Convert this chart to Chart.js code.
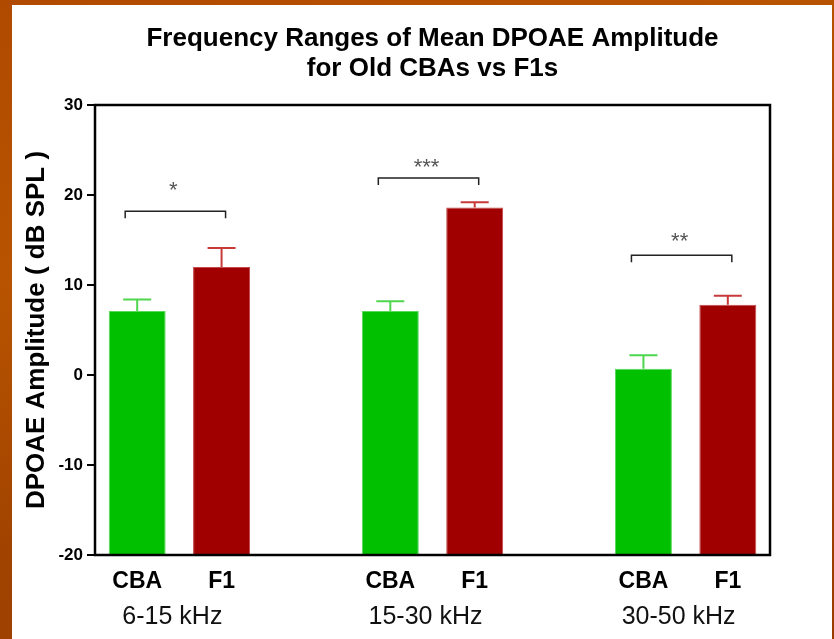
<!DOCTYPE html>
<html>
<head>
<meta charset="utf-8">
<title>Frequency Ranges of Mean DPOAE Amplitude</title>
<script src="https://cdn.jsdelivr.net/npm/chart.js@4.4.1/dist/chart.umd.min.js"></script>
<style>
  html, body { margin: 0; padding: 0; }
  body {
    width: 834px; height: 639px; overflow: hidden; position: relative;
    background: linear-gradient(160deg, #b04a00 0%, #b85400 30%, #a04200 60%, #9a3c00 100%);
  }
  #panel { position: absolute; left: 12px; top: 5px; width: 820px; height: 634px; background: #fff; }
  #chart { position: absolute; left: 0; top: 0; }
</style>
</head>
<body>
<div id="panel"></div>
<canvas id="chart" width="834" height="639"></canvas>
<script>
// slots on the x axis: two bars per frequency range, an empty slot between ranges
const barLabels = ['CBA', 'F1', '', 'CBA', 'F1', '', 'CBA', 'F1'];
const rangeLabels = ['6-15 kHz', '15-30 kHz', '30-50 kHz'];
const cbaSlots = [0, 3, 6];
const f1Slots = [1, 4, 7];

// mean DPOAE amplitude (dB SPL) and SEM
const cbaMeans = [7.1, 7.1, 0.7];
const cbaSem = [1.3, 1.1, 1.5];
const f1Means = [12.0, 18.6, 7.8];
const f1Sem = [2.1, 0.6, 1.0];

// significance brackets (dB SPL level of bracket and of stars)
const sigStars = ['*', '***', '**'];
const sigLevels = [18.2, 21.9, 13.3];
const starLevels = [21.1, 23.7, 15.4];

const yTicks = [-20, -10, 0, 10, 20, 30];

const toSlots = (slots, values) => {
  const out = barLabels.map(() => null);
  slots.forEach((s, i) => { out[s] = values[i]; });
  return out;
};

const errorBars = {
  id: 'errorBars',
  afterDatasetsDraw(chart) {
    const { ctx, scales: { y } } = chart;
    const semSets = [toSlots(cbaSlots, cbaSem), toSlots(f1Slots, f1Sem)];
    const colors = ['#4fd64f', '#c83a3a'];
    ctx.save();
    chart.data.datasets.forEach((ds, di) => {
      const meta = chart.getDatasetMeta(di);
      meta.data.forEach((bar, i) => {
        const v = ds.data[i];
        if (v === null) return;
        const top = y.getPixelForValue(v + semSets[di][i]);
        ctx.strokeStyle = colors[di];
        ctx.lineWidth = 2;
        ctx.beginPath();
        ctx.moveTo(bar.x, bar.y);
        ctx.lineTo(bar.x, top);
        ctx.moveTo(bar.x - 14, top);
        ctx.lineTo(bar.x + 14, top);
        ctx.stroke();
      });
    });
    ctx.restore();
  }
};

const annotations = {
  id: 'annotations',
  afterDraw(chart) {
    const { ctx, chartArea: a, scales: { y } } = chart;
    const cbaMeta = chart.getDatasetMeta(0);
    const f1Meta = chart.getDatasetMeta(1);
    ctx.save();

    // frame round the plot
    ctx.strokeStyle = '#000';
    ctx.lineWidth = 2.5;
    ctx.strokeRect(a.left, a.top, a.right - a.left, a.bottom - a.top);

    rangeLabels.forEach((label, g) => {
      const xa = cbaMeta.data[cbaSlots[g]].x;
      const xb = f1Meta.data[f1Slots[g]].x;

      // bracket
      const x1 = xa - 12, x2 = xb + 4;
      const yb = y.getPixelForValue(sigLevels[g]);
      ctx.strokeStyle = '#222';
      ctx.lineWidth = 1.5;
      ctx.beginPath();
      ctx.moveTo(x1, yb + 7);
      ctx.lineTo(x1, yb);
      ctx.lineTo(x2, yb);
      ctx.lineTo(x2, yb + 7);
      ctx.stroke();

      ctx.fillStyle = '#555';
      ctx.font = '22px "Liberation Sans", Arial, sans-serif';
      ctx.textAlign = 'center';
      ctx.textBaseline = 'alphabetic';
      ctx.fillText(sigStars[g], (x1 + x2) / 2 - 2, y.getPixelForValue(starLevels[g]) + 12);

      // frequency range under the bar names
      ctx.fillStyle = '#111';
      ctx.font = '25px "Liberation Sans", Arial, sans-serif';
      ctx.fillText(label, (xa + xb) / 2 - 7, 624);
    });
    ctx.restore();
  }
};

new Chart(document.getElementById('chart'), {
  type: 'bar',
  data: {
    labels: barLabels,
    datasets: [
      {
        label: 'CBA',
        data: toSlots(cbaSlots, cbaMeans),
        backgroundColor: '#00c000',
        borderColor: '#5ad85a',
        borderWidth: 1,
        borderSkipped: 'bottom'
      },
      {
        label: 'F1',
        data: toSlots(f1Slots, f1Means),
        backgroundColor: '#a00000',
        borderColor: '#c44a4a',
        borderWidth: 1,
        borderSkipped: 'bottom'
      }
    ]
  },
  options: {
    responsive: false,
    devicePixelRatio: 1,
    animation: false,
    layout: { padding: { left: 12, top: 0, right: 64, bottom: 0 } },
    datasets: {
      bar: { grouped: false, barPercentage: 0.675, categoryPercentage: 1, base: -20 }
    },
    scales: {
      x: {
        type: 'category',
        offset: true,
        border: { display: false },
        grid: { display: false, drawTicks: false },
        ticks: {
          color: '#000',
          padding: 13,
          autoSkip: false,
          maxRotation: 0,
          font: { family: '"Liberation Sans", Arial, sans-serif', size: 23, weight: 'bold' }
        },
        afterFit(scale) { scale.height = 84; }
      },
      y: {
        min: -20,
        max: 30,
        afterBuildTicks(scale) { scale.ticks = yTicks.map(v => ({ value: v })); },
        border: { display: false },
        grid: { drawOnChartArea: false, drawTicks: true, tickLength: 8, color: '#000', lineWidth: 2 },
        ticks: {
          color: '#000',
          padding: 4,
          font: { family: '"Liberation Sans", Arial, sans-serif', size: 17, weight: 'bold' }
        },
        title: {
          display: true,
          text: 'DPOAE Amplitude ( dB SPL )',
          color: '#000',
          padding: { top: 9, bottom: 0 },
          font: { family: '"Liberation Sans", Arial, sans-serif', size: 26, weight: 'bold', lineHeight: 1.2 }
        },
        afterFit(scale) { scale.width = 83; }
      }
    },
    plugins: {
      legend: { display: false },
      tooltip: { enabled: false },
      title: {
        display: true,
        fullSize: false,
        text: ['Frequency Ranges of Mean DPOAE Amplitude', 'for Old CBAs vs F1s'],
        color: '#000',
        padding: { top: 24, bottom: 21 },
        font: { family: '"Liberation Sans", Arial, sans-serif', size: 26, weight: 'bold', lineHeight: '30px' }
      }
    }
  },
  plugins: [errorBars, annotations]
});
</script>
</body>
</html>
